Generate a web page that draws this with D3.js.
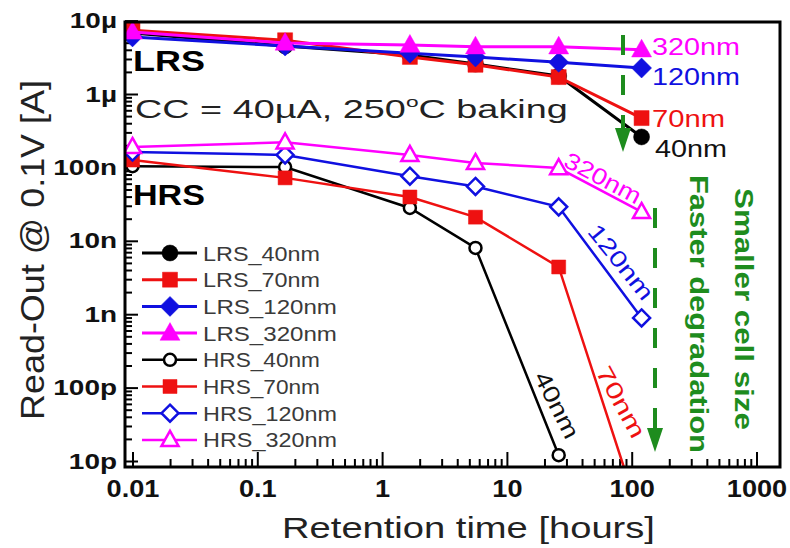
<!DOCTYPE html>
<html><head><meta charset="utf-8">
<script src="https://cdn.jsdelivr.net/npm/d3@7"></script>
<style>body{margin:0;background:#fff;} svg{display:block;font-family:Arial,"Liberation Sans",sans-serif;}</style>
</head><body><svg id="c" width="790" height="548"></svg>
<script>
// ---- data ----
const times = [0.01, 0.167, 1.67, 5.6, 26, 120];
const LRS_40nm  = [6.8e-6, 4.5e-6, 3.4e-6, 2.56e-6, 1.76e-6, 2.6e-7];
const LRS_70nm  = [7.4e-6, 5.4e-6, 3.2e-6, 2.5e-6, 1.7e-6, 4.7e-7];
const LRS_120nm = [6.0e-6, 4.5e-6, 3.6e-6, 3.2e-6, 2.7e-6, 2.26e-6];
const LRS_320nm = [7.0e-6, 4.95e-6, 4.65e-6, 4.4e-6, 4.4e-6, 4.0e-6];
const HRS_40nm  = [1.04e-7, 1.01e-7, 2.8e-8, 8.0e-9, 1.2e-11];
const HRS_70nm  = [1.26e-7, 7.2e-8, 3.95e-8, 2.1e-8, 4.4e-9, 1.5e-12];
const HRS_120nm = [1.62e-7, 1.48e-7, 7.6e-8, 5.5e-8, 2.9e-8, 8.9e-10];
const HRS_320nm = [1.9e-7, 2.2e-7, 1.48e-7, 1.15e-7, 9.8e-8, 2.47e-8];

const seriesNames  = ["LRS_40nm","LRS_70nm","LRS_120nm","LRS_320nm","HRS_40nm","HRS_70nm","HRS_120nm","HRS_320nm"];
const seriesValues = [LRS_40nm, LRS_70nm, LRS_120nm, LRS_320nm, HRS_40nm, HRS_70nm, HRS_120nm, HRS_320nm];

const xTickValues = [0.01, 0.1, 1, 10, 100, 1000];
const xTickLabels = ["0.01", "0.1", "1", "10", "100", "1000"];
const yTickValues = [1e-5, 1e-6, 1e-7, 1e-8, 1e-9, 1e-10, 1e-11];
const yTickLabels = ["10\u00b5", "1\u00b5", "100n", "10n", "1n", "100p", "10p"];

const endLabels = ["320nm", "120nm", "70nm", "40nm"];

// ---- styles ----
const BLACK = "#000", RED = "#ee1111", BLUE = "#1010e0", MAG = "#ff00ff", GREEN = "#1e8c1e";
const styles = [
  {color: BLACK, shape: "circle",   filled: true,  r: 8,   lw: 3},
  {color: RED,   shape: "square",   filled: true,  r: 7.5, lw: 3},
  {color: BLUE,  shape: "diamond",  filled: true,  r: 10,  lw: 3},
  {color: MAG,   shape: "triangle", filled: true,  r: 10.5,lw: 3},
  {color: BLACK, shape: "circle",   filled: false, r: 6,   lw: 2.5},
  {color: RED,   shape: "square",   filled: true,  r: 7,   lw: 2.5},
  {color: BLUE,  shape: "diamond",  filled: false, r: 8.5, lw: 2.5},
  {color: MAG,   shape: "triangle", filled: false, r: 9,   lw: 2.5}
];

const svg = d3.select("#c");
const X0 = 125, X1 = 780, Y0 = 22, Y1 = 467;
const x = d3.scaleLog().domain([0.01, 1000]).range([132.5, 756.5]);
const y = d3.scaleLog().domain([1e-5, 1e-11]).range([20.6, 461]);

function shapePath(shape, r) {
  switch (shape) {
    case "circle": return d3.symbol(d3.symbolCircle, Math.PI * r * r)();
    case "square": return `M${-r},${-r}H${r}V${r}H${-r}Z`;
    case "diamond": return `M0,${-r}L${r},0L0,${r}L${-r},0Z`;
    case "triangle": return `M0,${-r}L${r*0.95},${r*0.68}L${-r*0.95},${r*0.68}Z`;
  }
}

// minor ticks
const xMinor = [], yMinor = [];
for (let e = -2; e < 3; e++) for (let m = 2; m <= 9; m++) xMinor.push(m * Math.pow(10, e));
for (let e = -11; e < -5; e++) for (let m = 2; m <= 9; m++) yMinor.push(m * Math.pow(10, e));

// axes
const gxm = svg.append("g").attr("transform", `translate(0,${Y1})`)
  .call(d3.axisBottom(x).tickValues(xMinor).tickSize(-8).tickSizeOuter(0).tickFormat(""));
const gx = svg.append("g").attr("transform", `translate(0,${Y1})`)
  .call(d3.axisBottom(x).tickValues(xTickValues).tickSize(-15).tickSizeOuter(0).tickPadding(14)
    .tickFormat((d, i) => xTickLabels[i]));
const gym = svg.append("g").attr("transform", `translate(${X0},0)`)
  .call(d3.axisLeft(y).tickValues(yMinor).tickSize(-7).tickSizeOuter(0).tickFormat(""));
const gy = svg.append("g").attr("transform", `translate(${X0},0)`)
  .call(d3.axisLeft(y).tickValues(yTickValues).tickSize(-13).tickSizeOuter(0).tickPadding(8)
    .tickFormat((d, i) => yTickLabels[i]));
[gxm, gx, gym, gy].forEach(g => {
  g.select(".domain").remove();
  g.selectAll(".tick line").attr("stroke", "#000").attr("stroke-width", 2);
});
gx.selectAll("text").attr("font-size", 23).attr("font-weight", "bold").attr("fill", "#111")
  .attr("font-family", "Arial, Liberation Sans, sans-serif")
  .each(function () { const L = this.getComputedTextLength(); d3.select(this).attr("textLength", L * 1.18).attr("lengthAdjust", "spacingAndGlyphs"); });
gy.selectAll("text").attr("font-size", 22).attr("font-weight", "bold").attr("fill", "#111")
  .attr("font-family", "Arial, Liberation Sans, sans-serif")
  .each(function () { const L = this.getComputedTextLength(); d3.select(this).attr("textLength", L * 1.27).attr("lengthAdjust", "spacingAndGlyphs"); });

// clip
svg.append("clipPath").attr("id", "plotclip").append("rect")
  .attr("x", X0).attr("y", Y0).attr("width", X1 - X0).attr("height", Y1 - Y0);

const plot = svg.append("g").attr("clip-path", "url(#plotclip)");
const line = d3.line().x(d => x(d[0])).y(d => y(d[1]));

seriesValues.forEach((vals, i) => {
  const st = styles[i];
  const pts = vals.map((v, j) => [times[j], v]);
  const g = plot.append("g");
  g.append("path").attr("d", line(pts)).attr("fill", "none").attr("stroke", st.color).attr("stroke-width", st.lw);
  g.selectAll("path.m").data(pts).join("path").attr("class", "m")
    .attr("transform", d => `translate(${x(d[0])},${y(d[1])})`)
    .attr("d", shapePath(st.shape, st.r))
    .attr("fill", st.filled ? st.color : "#fff")
    .attr("stroke", st.color).attr("stroke-width", st.filled ? 0.5 : 2.5);
});

// frame
svg.append("rect").attr("x", X0).attr("y", Y0).attr("width", X1 - X0).attr("height", Y1 - Y0)
  .attr("fill", "none").attr("stroke", "#000").attr("stroke-width", 3);

// helper: text stretched to a target width
function txt(parent, str, opts) {
  const g = parent.append("g");
  const t = g.append("text").text(str)
    .attr("font-size", opts.size).attr("font-weight", opts.bold ? "bold" : "normal")
    .attr("fill", opts.color || "#000").attr("text-anchor", opts.anchor || "start");
  if (opts.dy) t.attr("dy", opts.dy);
  const L = t.node().getComputedTextLength();
  const k = opts.width ? opts.width / L : 1;
  const ky = opts.ky || 1;
  g.attr("transform", `translate(${opts.x},${opts.y}) rotate(${opts.rot || 0}) scale(${k},${ky})`);
  return g;
}

// legend
const legY0 = 253, legStep = 26.7;
seriesNames.forEach((name, i) => {
  const st = styles[i];
  const yy = legY0 + i * legStep;
  svg.append("line").attr("x1", 142).attr("x2", 197).attr("y1", yy).attr("y2", yy)
    .attr("stroke", st.color).attr("stroke-width", st.lw);
  svg.append("path").attr("transform", `translate(170,${yy})`).attr("d", shapePath(st.shape, st.r))
    .attr("fill", st.filled ? st.color : "#fff").attr("stroke", st.color).attr("stroke-width", st.filled ? 0.5 : 2.5);
  txt(svg, name, {x: 203, y: yy + 7.5, size: 21, color: "#3a3a3a", width: name.length > 8 ? 134 : 117});
});

// titles
txt(svg, "LRS", {x: 133, y: 71, size: 29, bold: true, width: 72});
txt(svg, "HRS", {x: 133, y: 205, size: 29, bold: true, width: 72});

// CC text with superscript
{
  const g = svg.append("g");
  const t = g.append("text").attr("font-size", 25).attr("fill", "#222");
  t.append("tspan").text("CC = 40\u00b5A, 250");
  t.append("tspan").text("o").attr("font-size", 15).attr("dy", -11);
  t.append("tspan").text("C baking").attr("dy", 11);
  const W = t.node().getBBox().width;
  g.attr("transform", `translate(135,118) scale(${433 / W},1)`);
}

// end labels (LRS)
txt(svg, endLabels[0], {x: 652, y: 55, size: 23, color: MAG, width: 88});
txt(svg, endLabels[1], {x: 652, y: 85, size: 23, color: BLUE, width: 88});
txt(svg, endLabels[2], {x: 652, y: 127, size: 23, color: RED, width: 73});
txt(svg, endLabels[3], {x: 655, y: 157, size: 23, color: "#111", width: 72});

// rotated HRS labels
txt(svg, endLabels[0], {x: 603, y: 178, rot: 28, size: 23, color: MAG, width: 84, anchor: "middle", dy: "0.35em"});
txt(svg, endLabels[1], {x: 621, y: 262, rot: 51, size: 23, color: BLUE, width: 90, anchor: "middle", dy: "0.35em"});
txt(svg, endLabels[3], {x: 557, y: 405, rot: 63, size: 23, color: "#111", width: 72, anchor: "middle", dy: "0.35em"});
txt(svg, endLabels[2], {x: 621, y: 402, rot: 61.5, size: 23, color: RED, width: 78, anchor: "middle", dy: "0.35em"});

// green arrows
function arrow(xa, ya, yb, tip) {
  svg.append("line").attr("x1", xa).attr("x2", xa).attr("y1", ya).attr("y2", yb)
    .attr("stroke", GREEN).attr("stroke-width", 4).attr("stroke-dasharray", "20,20");
  svg.append("path").attr("d", `M${xa - 8},${tip - 24}L${xa + 8},${tip - 24}L${xa},${tip}Z`).attr("fill", GREEN);
}
arrow(623, 35, 132, 152);
arrow(655, 208, 430, 452);

txt(svg, "Faster degradation", {x: 690, y: 175, rot: 90, size: 26, bold: true, color: GREEN, width: 278});
txt(svg, "Smaller cell size", {x: 735, y: 188, rot: 90, size: 26, bold: true, color: GREEN, width: 242});

// axis titles
txt(svg, "Read-Out @ 0.1V [A]", {x: 44, y: 250, rot: -90, size: 29, color: "#222", width: 340, anchor: "middle", ky: 1.15});
txt(svg, "Retention time [hours]", {x: 468.5, y: 538, size: 29, color: "#222", width: 373, anchor: "middle"});
</script>
</body></html>
